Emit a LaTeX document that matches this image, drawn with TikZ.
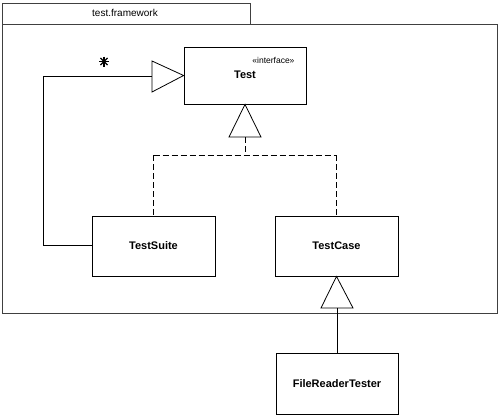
\documentclass[tikz,border=0pt]{standalone}
\usepackage{fontspec}
\setmainfont{Liberation Sans}
\usetikzlibrary{positioning,calc}
\begin{document}
\begin{tikzpicture}[x=1pt,y=-1pt,
  cls/.style={draw=black,line width=0.8pt,minimum width=123pt,minimum height=60pt,inner sep=0pt,font=\bfseries\fontsize{11}{13}\selectfont},
  conn/.style={draw=black,line width=0.8pt},
  dconn/.style={draw=black,line width=0.8pt,dash pattern=on 6pt off 3pt},
  tri/.style={draw=black,line width=0.8pt,fill=white},
  pkg/.style={draw=black!75,line width=1pt},
  starline/.style={draw=black,line width=1.1pt}]
\useasboundingbox (0,0) rectangle (500,415);
% package
\draw[pkg] (2,3) rectangle (250,24);
\node[font=\fontsize{10}{12}\selectfont] (pkgname) at (125,13) {test.framework};
\draw[pkg] (2,24) rectangle (497,313);
% classes
\node[cls,minimum width=122pt,minimum height=57pt] (test) at (245,75.5) {};
\node[font=\fontsize{8.5}{10}\selectfont,anchor=east] (stereo) at (298,60) {«interface»};
\node[font=\bfseries\fontsize{11}{13}\selectfont] (testlbl) at (245,75) {Test};
\node[cls] (suite) at (153.5,246) {TestSuite};
\node[cls] (case) at (336.5,246) {TestCase};
\node[cls,minimum width=122pt,minimum height=61pt] (frt) at (337,383.5) {FileReaderTester};
% association from TestSuite to Test
\coordinate (t1tip) at (test.west);
\coordinate (t1base) at (152,76);
\draw[tri] (t1tip) -- (152,61) -- (152,92) -- cycle;
\coordinate (c1) at (43,76);
\coordinate (c2) at (43,245);
\draw[conn] (suite.west |- c2) -- (c2) -- (c1) -- (t1base);
% multiplicity asterisk
\coordinate (star) at (104,61.5);
\foreach \a in {0,45,90,135}{
  \draw[starline] ($(star)+(\a:5pt)$) -- ($(star)+(\a+180:5pt)$);
}
% realization triangle under Test
\coordinate (t2base) at (245,137);
\draw[tri] (test.south) -- (229,137) -- (261,137) -- cycle;
\coordinate (j) at (245,155);
\coordinate (jl) at (153.5,155);
\coordinate (jr) at (336.5,155);
\draw[dconn] (t2base) -- (j);
\draw[dconn] (jl) -- (jr);
\draw[dconn] (jl) -- (suite.north);
\draw[dconn] (jr) -- (case.north);
% generalization from FileReaderTester to TestCase
\coordinate (t3base) at (337,308);
\draw[tri] (case.south) -- (321,308) -- (353,308) -- cycle;
\draw[conn] (t3base) -- (frt.north);
\end{tikzpicture}
\end{document}
